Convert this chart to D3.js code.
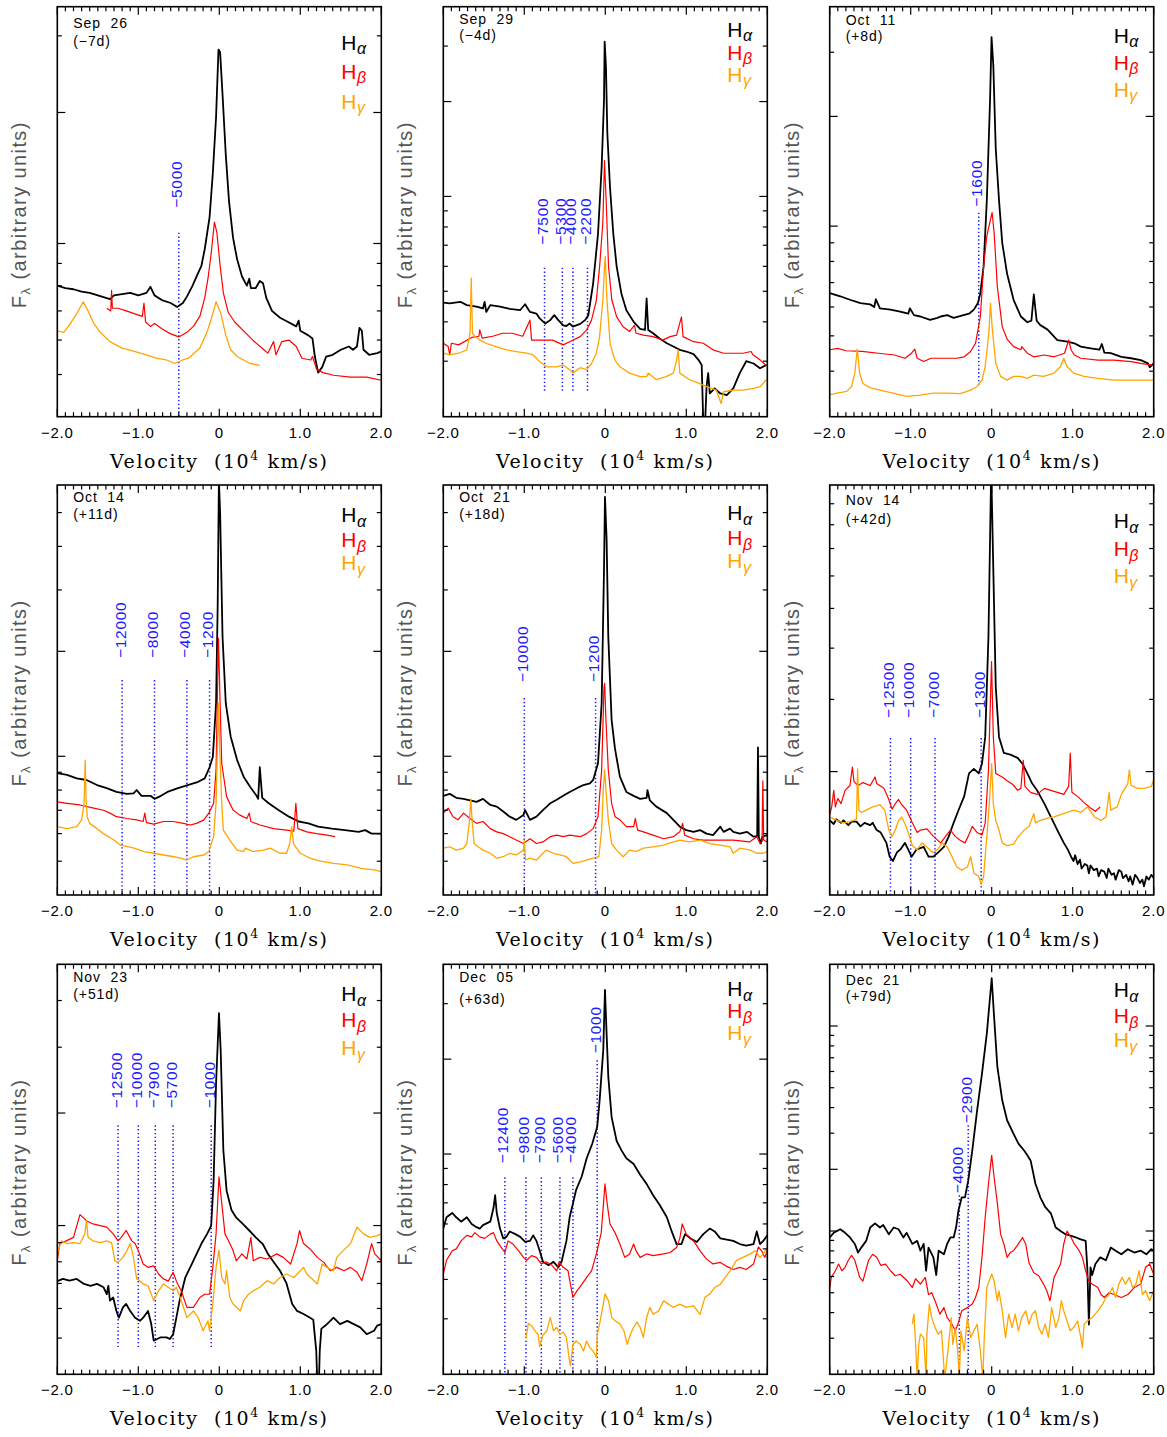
<!DOCTYPE html>
<html><head><meta charset="utf-8">
<script src="https://cdn.jsdelivr.net/npm/d3@7"></script>
<style>body{margin:0;background:#fff;} svg{display:block;}</style>
</head><body>
<svg id="chart" width="1167" height="1437"></svg>
<script>
// ---------------- DATA (velocity in 10^4 km/s, flux in arbitrary units) ----------------
const p1Ha=[[-2.00,8.0],[-1.90,7.9],[-1.80,7.85],[-1.70,7.75],[-1.60,7.7],[-1.50,7.6],[-1.40,7.5],[-1.35,7.45],[-1.30,7.6],[-1.20,7.65],[-1.10,7.7],[-1.00,7.6],[-0.90,7.7],[-0.85,7.95],[-0.80,7.6],[-0.70,7.4],[-0.60,7.3],[-0.52,7.15],[-0.45,7.3],[-0.40,7.55],[-0.33,8.0],[-0.28,8.4],[-0.22,8.9],[-0.18,9.7],[-0.12,11.5],[-0.08,14.5],[-0.04,19.5],[-0.01,27.9],[0.01,27.5],[0.04,22],[0.08,16],[0.12,12.5],[0.17,10.3],[0.22,9.2],[0.28,8.4],[0.34,8.0],[0.37,8.3],[0.39,7.9],[0.45,7.9],[0.50,8.2],[0.54,8.1],[0.58,7.5],[0.65,7.0],[0.75,6.75],[0.85,6.6],[0.95,6.45],[0.98,6.65],[1.00,6.3],[1.10,6.15],[1.15,6.05],[1.18,5.5],[1.22,5.05],[1.27,5.2],[1.32,5.5],[1.40,5.55],[1.50,5.7],[1.60,5.8],[1.65,5.7],[1.70,5.8],[1.73,6.4],[1.76,6.3],[1.78,5.7],[1.85,5.55],[1.95,5.6],[2.00,5.65]];
const p1Hb=[[-1.39,7.1],[-1.34,7.0],[-1.33,7.8],[-1.32,7.1],[-1.25,7.1],[-1.15,7.0],[-1.05,6.9],[-0.95,6.8],[-0.93,7.3],[-0.91,6.6],[-0.85,6.45],[-0.80,6.55],[-0.70,6.35],[-0.60,6.2],[-0.50,6.1],[-0.40,6.25],[-0.32,6.45],[-0.24,6.8],[-0.18,7.5],[-0.14,8.3],[-0.10,9.5],[-0.06,11.2],[-0.03,10.6],[0.01,8.9],[0.05,7.7],[0.11,6.95],[0.19,6.6],[0.30,6.3],[0.42,5.98],[0.55,5.7],[0.60,5.6],[0.67,5.95],[0.70,5.55],[0.77,5.95],[0.86,6.0],[0.95,5.8],[1.02,5.45],[1.13,5.4],[1.15,5.5],[1.20,5.15],[1.28,5.05],[1.41,4.98],[1.62,4.93],[1.82,4.93],[2.00,4.85]];
const p1Hg=[[-2.0,6.3],[-1.92,6.25],[-1.85,6.5],[-1.75,6.95],[-1.68,7.35],[-1.62,7.0],[-1.55,6.55],[-1.47,6.25],[-1.35,5.95],[-1.20,5.75],[-1.05,5.65],[-0.90,5.55],[-0.78,5.45],[-0.65,5.4],[-0.55,5.3],[-0.45,5.4],[-0.38,5.45],[-0.24,5.75],[-0.16,6.2],[-0.10,6.7],[-0.04,7.35],[0.02,6.9],[0.08,6.15],[0.14,5.7],[0.22,5.5],[0.30,5.4],[0.38,5.3],[0.50,5.25]];

const p2Ha=[[-2.0,4.6],[-1.92,4.58],[-1.79,4.63],[-1.71,4.52],[-1.59,4.47],[-1.51,4.41],[-1.49,4.63],[-1.47,4.3],[-1.42,4.52],[-1.30,4.47],[-1.18,4.4],[-1.05,4.36],[-0.99,4.55],[-0.93,4.3],[-0.85,4.25],[-0.81,4.1],[-0.74,3.95],[-0.68,4.05],[-0.63,4.2],[-0.58,4.05],[-0.52,3.9],[-0.48,3.88],[-0.44,3.95],[-0.40,3.86],[-0.31,3.94],[-0.25,4.05],[-0.21,4.2],[-0.15,5.3],[-0.09,7.6],[-0.045,12.4],[-0.016,20.2],[-0.008,31],[0.008,25.8],[0.025,15.9],[0.058,10.7],[0.099,7.6],[0.14,6.0],[0.20,4.9],[0.26,4.35],[0.35,4.0],[0.43,3.8],[0.49,3.77],[0.51,4.75],[0.53,3.77],[0.59,3.68],[0.67,3.54],[0.76,3.42],[0.84,3.34],[0.92,3.26],[1.00,3.22],[1.09,3.16],[1.15,3.03],[1.19,2.92],[1.21,1.9],[1.23,1.85],[1.25,2.49],[1.27,2.75],[1.29,2.37],[1.35,2.46],[1.42,2.37],[1.50,2.34],[1.58,2.46],[1.66,2.75],[1.74,3.0],[1.83,2.95],[1.91,2.85],[1.99,2.92]];
const p2Hb=[[-2.0,3.42],[-1.94,3.34],[-1.92,3.15],[-1.90,3.42],[-1.81,3.38],[-1.65,3.57],[-1.56,3.6],[-1.55,3.77],[-1.52,3.55],[-1.39,3.6],[-1.27,3.68],[-1.15,3.68],[-1.02,3.6],[-0.93,4.05],[-0.91,3.5],[-0.77,3.5],[-0.65,3.5],[-0.52,3.38],[-0.44,3.46],[-0.31,3.59],[-0.23,3.77],[-0.17,4.05],[-0.11,4.69],[-0.07,6.0],[-0.03,8.3],[-0.01,13],[0.01,9.8],[0.04,6.0],[0.08,4.7],[0.14,4.15],[0.22,3.86],[0.30,3.73],[0.36,3.9],[0.38,3.68],[0.47,3.63],[0.59,3.59],[0.71,3.5],[0.80,3.59],[0.88,3.63],[0.94,4.15],[0.96,3.59],[1.09,3.46],[1.21,3.42],[1.33,3.26],[1.46,3.18],[1.58,3.18],[1.70,3.18],[1.80,3.22],[1.82,3.15],[1.91,3.03],[1.99,2.9]];
const p2Hg=[[-2.0,3.18],[-1.92,3.14],[-1.81,3.18],[-1.71,3.26],[-1.67,3.68],[-1.655,5.5],[-1.64,3.68],[-1.61,3.6],[-1.55,3.5],[-1.47,3.42],[-1.35,3.34],[-1.22,3.26],[-1.10,3.22],[-0.97,3.18],[-0.89,3.14],[-0.81,2.99],[-0.72,2.88],[-0.60,2.88],[-0.52,2.92],[-0.44,2.82],[-0.40,2.75],[-0.31,2.86],[-0.23,2.82],[-0.17,2.95],[-0.11,3.18],[-0.07,3.6],[-0.03,4.7],[-0.01,5.98],[0.0,6.45],[0.02,4.7],[0.06,3.4],[0.12,3.02],[0.18,2.88],[0.30,2.75],[0.43,2.68],[0.51,2.68],[0.53,2.75],[0.63,2.62],[0.75,2.68],[0.84,2.75],[0.88,3.02],[0.90,3.26],[0.92,2.75],[1.04,2.62],[1.16,2.55],[1.25,2.49],[1.37,2.43],[1.43,2.2],[1.46,2.4],[1.58,2.43],[1.70,2.43],[1.83,2.46],[1.91,2.49],[1.99,2.62]];

const p3Ha=[[-2.0,6.55],[-1.87,6.42],[-1.75,6.28],[-1.62,6.15],[-1.50,6.1],[-1.45,6.0],[-1.43,6.3],[-1.38,5.95],[-1.25,5.9],[-1.13,5.83],[-1.03,5.75],[-1.01,5.95],[-0.96,5.7],[-0.88,5.65],[-0.76,5.53],[-0.67,5.6],[-0.63,5.65],[-0.55,5.7],[-0.47,5.6],[-0.37,5.68],[-0.28,5.75],[-0.22,5.9],[-0.17,6.15],[-0.14,6.55],[-0.10,7.76],[-0.06,11.8],[-0.02,22.3],[-0.002,33.0],[0.02,27.6],[0.05,16.3],[0.09,11.8],[0.13,9.0],[0.19,7.4],[0.27,6.28],[0.36,5.65],[0.44,5.45],[0.49,5.5],[0.52,6.5],[0.555,5.5],[0.60,5.35],[0.69,5.2],[0.81,4.87],[0.935,4.82],[1.02,4.77],[1.10,4.67],[1.22,4.62],[1.33,4.58],[1.36,4.75],[1.39,4.5],[1.47,4.48],[1.60,4.38],[1.72,4.34],[1.84,4.29],[1.93,4.2],[1.95,4.1],[2.0,4.2]];
const p3Hb=[[-2.0,4.58],[-1.90,4.62],[-1.80,4.55],[-1.60,4.53],[-1.40,4.48],[-1.20,4.43],[-1.07,4.34],[-0.99,4.48],[-0.95,4.6],[-0.92,4.34],[-0.84,4.25],[-0.75,4.34],[-0.60,4.34],[-0.43,4.34],[-0.34,4.38],[-0.26,4.53],[-0.20,4.77],[-0.14,5.65],[-0.10,7.76],[-0.06,9.4],[0.005,10.9],[0.03,9.6],[0.07,6.8],[0.13,5.3],[0.19,4.9],[0.27,4.67],[0.36,4.58],[0.37,4.67],[0.44,4.48],[0.52,4.38],[0.65,4.43],[0.77,4.38],[0.90,4.48],[0.95,4.87],[0.98,4.58],[1.02,4.43],[1.10,4.34],[1.31,4.29],[1.51,4.29],[1.72,4.25],[1.84,4.2],[2.0,4.15]];
const p3Hg=[[-2.0,3.45],[-1.91,3.48],[-1.79,3.52],[-1.73,3.63],[-1.69,3.95],[-1.66,4.6],[-1.63,3.95],[-1.59,3.7],[-1.50,3.6],[-1.38,3.55],[-1.22,3.48],[-1.05,3.41],[-0.88,3.44],[-0.72,3.48],[-0.55,3.48],[-0.39,3.47],[-0.26,3.55],[-0.18,3.63],[-0.12,3.78],[-0.08,4.12],[-0.035,5.09],[-0.015,6.15],[0.005,5.3],[0.05,4.2],[0.11,3.87],[0.19,3.78],[0.27,3.87],[0.36,3.87],[0.44,3.82],[0.52,3.9],[0.64,3.87],[0.77,3.95],[0.85,4.12],[0.89,4.34],[0.93,4.12],[1.01,3.95],[1.14,3.87],[1.31,3.82],[1.51,3.78],[1.72,3.78],[2.0,3.78]];

const p4Ha=[[-2.0,8.94],[-1.88,8.84],[-1.76,8.64],[-1.64,8.55],[-1.51,8.27],[-1.39,8.1],[-1.27,7.9],[-1.14,7.8],[-1.06,7.83],[-1.02,8.0],[-0.96,7.7],[-0.85,7.7],[-0.80,7.55],[-0.72,7.7],[-0.64,7.9],[-0.51,8.1],[-0.39,8.27],[-0.26,8.45],[-0.18,8.64],[-0.12,9.3],[-0.08,9.95],[-0.04,14.2],[-0.02,27],[-0.005,62],[0.01,50],[0.04,22],[0.08,14.2],[0.14,11.4],[0.22,9.75],[0.30,8.74],[0.38,8.18],[0.46,7.7],[0.48,7.55],[0.50,9.3],[0.53,7.6],[0.61,7.33],[0.73,7.01],[0.86,6.71],[0.98,6.5],[1.10,6.42],[1.22,6.28],[1.39,6.2],[1.55,6.14],[1.72,6.07],[1.80,6.14],[1.88,6.0],[2.0,6.0]];
const p4Hb=[[-2.0,7.4],[-1.88,7.33],[-1.72,7.25],[-1.55,7.1],[-1.43,7.0],[-1.35,6.87],[-1.27,6.71],[-1.14,6.63],[-1.02,6.57],[-0.94,6.5],[-0.92,6.87],[-0.90,6.45],[-0.81,6.39],[-0.69,6.5],[-0.57,6.5],[-0.44,6.42],[-0.36,6.35],[-0.28,6.42],[-0.19,6.57],[-0.13,6.87],[-0.07,7.33],[-0.04,9.14],[-0.025,14.2],[-0.01,21.8],[0.01,14.2],[0.03,9.55],[0.09,7.66],[0.17,7.01],[0.25,6.79],[0.34,6.63],[0.37,6.87],[0.39,6.5],[0.50,6.35],[0.67,6.2],[0.83,6.14],[0.92,6.1],[0.945,7.33],[0.97,6.2],[1.08,6.07],[1.20,6.0],[1.33,5.94],[1.43,5.88]];
const p4Hg=[[-2.0,6.28],[-1.88,6.2],[-1.76,6.28],[-1.70,6.57],[-1.67,7.33],[-1.655,9.75],[-1.645,7.5],[-1.63,6.7],[-1.60,6.42],[-1.51,6.2],[-1.43,6.0],[-1.30,5.75],[-1.22,5.56],[-1.05,5.45],[-0.93,5.33],[-0.81,5.27],[-0.69,5.21],[-0.56,5.15],[-0.48,5.1],[-0.40,5.04],[-0.32,5.15],[-0.19,5.21],[-0.13,5.33],[-0.07,5.88],[-0.04,7.33],[-0.02,11.4],[-0.01,14.2],[0.005,10.5],[0.03,7.33],[0.05,6.14],[0.14,5.7],[0.22,5.38],[0.30,5.33],[0.32,5.45],[0.42,5.33],[0.55,5.38],[0.63,5.45],[0.75,5.27],[0.83,5.27],[0.87,5.62],[0.895,6.28],[0.915,5.62],[1.00,5.27],[1.12,5.1],[1.25,5.0],[1.41,4.93],[1.58,4.88],[1.75,4.77],[1.91,4.72],[2.0,4.67]];

const p5Ha=[[-2.0,7.7],[-1.92,7.8],[-1.84,7.6],[-1.75,7.55],[-1.67,7.47],[-1.59,7.4],[-1.51,7.55],[-1.42,7.25],[-1.34,7.17],[-1.26,6.94],[-1.18,6.71],[-1.10,6.57],[-1.01,6.79],[-0.99,7.01],[-0.93,6.57],[-0.85,6.71],[-0.77,7.01],[-0.68,7.33],[-0.60,7.5],[-0.52,7.7],[-0.44,7.9],[-0.35,8.1],[-0.27,8.27],[-0.19,8.36],[-0.15,8.55],[-0.09,9.55],[-0.045,14.2],[-0.016,34.2],[-0.004,55.5],[0.016,42],[0.037,22],[0.078,12.7],[0.12,10.5],[0.18,8.74],[0.26,7.9],[0.35,7.7],[0.43,7.55],[0.51,7.6],[0.52,8.0],[0.55,7.47],[0.63,7.17],[0.76,6.87],[0.84,6.57],[0.92,6.28],[1.00,6.14],[1.09,6.07],[1.17,6.14],[1.25,6.0],[1.33,5.94],[1.42,6.28],[1.46,6.07],[1.54,6.2],[1.58,6.07],[1.66,6.0],[1.75,6.07],[1.83,5.88],[1.875,5.9],[1.885,10.6],[1.895,5.88],[1.92,5.62],[1.94,5.88],[2.0,5.94]];
const p5Hb=[[-2.0,6.87],[-1.94,7.1],[-1.88,6.71],[-1.82,6.57],[-1.75,6.87],[-1.67,6.63],[-1.59,6.42],[-1.51,6.5],[-1.42,6.2],[-1.34,6.07],[-1.26,6.0],[-1.18,5.88],[-1.10,5.75],[-1.01,5.62],[-0.93,5.8],[-0.85,5.62],[-0.77,5.68],[-0.68,5.88],[-0.60,5.94],[-0.52,5.88],[-0.44,5.94],[-0.31,5.88],[-0.23,6.0],[-0.15,6.2],[-0.09,6.71],[-0.045,9.14],[-0.016,15.8],[-0.008,16.2],[0.008,12.7],[0.037,9.14],[0.078,7.33],[0.12,6.71],[0.18,6.57],[0.26,6.28],[0.35,6.28],[0.37,6.63],[0.40,6.14],[0.47,6.07],[0.59,5.94],[0.72,5.8],[0.84,5.88],[0.92,6.07],[0.955,6.42],[0.98,5.94],[1.09,5.8],[1.21,5.75],[1.37,5.75],[1.58,5.75],[1.78,5.68],[1.87,5.88],[1.91,5.62],[1.935,5.7],[1.945,8.5],[1.955,5.75],[2.0,5.68]];
const p5Hg=[[-2.0,5.45],[-1.92,5.5],[-1.84,5.38],[-1.75,5.45],[-1.71,5.62],[-1.68,6.42],[-1.66,7.55],[-1.645,6.57],[-1.62,5.62],[-1.57,5.5],[-1.51,5.38],[-1.42,5.27],[-1.34,5.1],[-1.26,5.15],[-1.18,5.27],[-1.10,5.21],[-1.01,5.38],[-1.00,5.75],[-0.985,5.04],[-0.93,5.1],[-0.85,5.04],[-0.77,5.27],[-0.73,5.38],[-0.64,5.27],[-0.56,5.21],[-0.48,5.15],[-0.40,4.93],[-0.31,4.98],[-0.23,5.04],[-0.15,5.1],[-0.08,5.15],[-0.045,6.14],[-0.025,8.0],[-0.008,9.14],[0.008,8.0],[0.037,6.57],[0.078,5.62],[0.14,5.38],[0.22,5.15],[0.30,5.38],[0.38,5.33],[0.47,5.45],[0.59,5.5],[0.72,5.56],[0.84,5.68],[0.92,5.75],[1.04,5.68],[1.17,5.75],[1.29,5.62],[1.42,5.56],[1.54,5.5],[1.58,5.27],[1.66,5.45],[1.79,5.38],[1.87,5.27],[1.95,5.27],[2.0,5.33]];

const p6Ha=[[-2.0,15.2],[-1.95,14.9],[-1.92,15.3],[-1.86,15.0],[-1.83,15.2],[-1.77,14.8],[-1.73,15.1],[-1.67,15.1],[-1.62,14.7],[-1.57,15.0],[-1.50,14.8],[-1.47,15.0],[-1.42,14.4],[-1.37,14.2],[-1.30,13.4],[-1.26,12.4],[-1.22,12.1],[-1.17,12.7],[-1.13,12.9],[-1.07,13.4],[-1.03,12.9],[-0.99,12.4],[-0.93,12.9],[-0.84,13.1],[-0.78,12.4],[-0.72,12.4],[-0.66,12.7],[-0.59,13.1],[-0.53,13.9],[-0.47,15.0],[-0.41,16.1],[-0.34,17.4],[-0.28,19.8],[-0.22,20.3],[-0.16,19.8],[-0.12,20.9],[-0.08,24.3],[-0.04,42.7],[-0.006,110],[0.02,62],[0.05,32.2],[0.09,24.3],[0.15,22.2],[0.23,22.0],[0.32,21.6],[0.38,20.9],[0.44,19.8],[0.50,18.7],[0.56,18.0],[0.65,16.7],[0.73,15.5],[0.81,14.4],[0.89,13.4],[0.94,12.9],[0.98,12.4],[1.01,12.1],[1.03,12.5],[1.06,11.9],[1.09,12.2],[1.11,11.6],[1.15,11.9],[1.18,11.8],[1.20,11.3],[1.22,11.8],[1.26,11.5],[1.30,11.6],[1.32,11.1],[1.35,11.5],[1.39,11.4],[1.42,11.0],[1.44,11.6],[1.48,11.2],[1.51,11.3],[1.53,10.9],[1.57,11.5],[1.60,11.4],[1.62,11.0],[1.66,11.2],[1.69,10.8],[1.71,11.1],[1.74,10.6],[1.77,11.2],[1.80,11.0],[1.83,10.7],[1.86,10.9],[1.88,10.5],[1.91,11.1],[1.94,10.9],[1.97,11.2],[2.0,11.0]];
const p6Hb=[[-2.0,15.7],[-1.975,16.4],[-1.95,18.0],[-1.93,16.4],[-1.90,17.2],[-1.86,16.7],[-1.81,18.0],[-1.75,18.5],[-1.72,20.5],[-1.70,18.9],[-1.65,18.5],[-1.59,18.8],[-1.50,18.5],[-1.44,19.4],[-1.42,18.7],[-1.33,18.2],[-1.27,17.1],[-1.23,16.2],[-1.19,16.7],[-1.15,17.1],[-1.11,16.6],[-1.05,16.1],[-0.98,15.0],[-0.92,14.2],[-0.88,14.4],[-0.80,14.5],[-0.72,13.9],[-0.63,13.4],[-0.57,13.9],[-0.51,14.4],[-0.45,13.9],[-0.39,13.6],[-0.33,13.4],[-0.29,13.9],[-0.24,14.7],[-0.18,14.2],[-0.12,14.0],[-0.08,15.0],[-0.04,20.2],[-0.002,37.1],[0.02,24.3],[0.05,19.8],[0.09,19.6],[0.13,19.4],[0.19,19.0],[0.26,18.6],[0.32,18.0],[0.36,18.2],[0.39,21.3],[0.41,18.4],[0.48,17.8],[0.56,17.6],[0.65,18.2],[0.73,18.0],[0.81,17.8],[0.89,17.6],[0.95,18.4],[0.97,22.2],[0.99,17.8],[1.06,17.4],[1.14,16.8],[1.22,16.3],[1.28,16.0],[1.34,16.4]];
const p6Hg=[[-2.0,15.5],[-1.91,15.2],[-1.83,15.0],[-1.75,15.1],[-1.67,15.3],[-1.655,20.3],[-1.64,16.1],[-1.61,15.9],[-1.55,16.1],[-1.47,16.4],[-1.38,16.6],[-1.32,16.1],[-1.27,14.4],[-1.23,13.9],[-1.19,14.4],[-1.15,15.2],[-1.11,15.5],[-1.07,14.9],[-1.03,14.2],[-0.98,13.2],[-0.92,12.9],[-0.86,13.4],[-0.80,13.1],[-0.73,12.7],[-0.67,12.9],[-0.61,13.4],[-0.55,13.1],[-0.49,12.4],[-0.43,11.7],[-0.37,11.5],[-0.30,11.7],[-0.26,12.4],[-0.22,11.3],[-0.16,11.1],[-0.13,10.6],[-0.10,11.1],[-0.06,13.9],[-0.03,16.7],[0.0,20.9],[0.02,16.7],[0.05,15.2],[0.09,14.4],[0.13,13.4],[0.19,13.2],[0.27,13.3],[0.33,13.9],[0.40,14.4],[0.46,14.7],[0.52,15.8],[0.54,15.0],[0.60,15.2],[0.69,15.4],[0.77,15.5],[0.85,15.7],[0.93,15.9],[1.02,16.1],[1.10,15.9],[1.18,16.4],[1.27,15.5],[1.35,15.2],[1.41,15.5],[1.45,17.8],[1.47,16.1],[1.55,16.4],[1.60,17.6],[1.68,18.7],[1.70,20.2],[1.72,18.5],[1.80,18.2],[1.88,18.2],[1.97,18.4],[2.0,19.1]];

const p7Ha=[[-2.0,7.1],[-1.93,7.2],[-1.85,7.12],[-1.76,7.2],[-1.67,6.98],[-1.59,6.9],[-1.51,6.98],[-1.43,6.84],[-1.39,6.55],[-1.37,6.9],[-1.35,6.3],[-1.31,6.42],[-1.27,5.91],[-1.24,5.67],[-1.19,6.04],[-1.15,6.17],[-1.10,5.91],[-1.04,5.67],[-0.98,5.56],[-0.94,5.67],[-0.88,5.91],[-0.84,5.45],[-0.81,4.92],[-0.73,5.02],[-0.65,5.02],[-0.61,4.97],[-0.57,5.12],[-0.53,5.67],[-0.49,6.3],[-0.42,7.26],[-0.34,7.89],[-0.28,8.4],[-0.22,8.95],[-0.15,9.5],[-0.10,10.0],[-0.07,13.2],[-0.04,24.0],[-0.004,37.0],[0.017,29.5],[0.05,15.9],[0.09,12.4],[0.15,11.0],[0.21,10.5],[0.29,10.1],[0.37,9.7],[0.45,9.3],[0.54,8.9],[0.60,8.4],[0.66,8.05],[0.75,7.57],[0.83,7.0],[0.90,6.17],[0.96,5.91],[1.04,5.8],[1.12,5.67],[1.16,5.6],[1.197,4.62],[1.21,3.8],[1.23,3.8],[1.24,4.62],[1.26,5.3],[1.31,5.4],[1.37,5.56],[1.41,5.67],[1.49,5.45],[1.58,5.56],[1.66,5.45],[1.74,5.34],[1.82,5.12],[1.91,5.23],[1.95,5.4],[2.0,5.45]];
const p7Hb=[[-2.0,8.05],[-1.97,8.95],[-1.89,9.1],[-1.80,9.3],[-1.72,10.7],[-1.68,10.5],[-1.64,10.3],[-1.56,10.1],[-1.47,10.0],[-1.39,9.9],[-1.31,9.5],[-1.25,9.1],[-1.21,9.3],[-1.15,9.7],[-1.08,9.1],[-1.04,8.95],[-1.00,8.57],[-0.94,7.89],[-0.88,7.73],[-0.81,7.8],[-0.75,7.42],[-0.69,7.2],[-0.63,7.1],[-0.57,7.5],[-0.53,7.1],[-0.47,6.69],[-0.40,6.04],[-0.32,6.04],[-0.24,6.42],[-0.18,6.55],[-0.12,6.55],[-0.08,7.73],[-0.04,9.5],[-0.004,13.5],[0.03,11.5],[0.07,9.5],[0.13,8.95],[0.17,8.57],[0.21,8.05],[0.28,8.4],[0.34,8.14],[0.39,9.3],[0.42,8.05],[0.50,8.22],[0.59,8.14],[0.71,8.4],[0.79,8.22],[0.88,7.89],[0.96,8.95],[0.99,9.7],[1.04,8.95],[1.12,8.66],[1.21,8.22],[1.29,7.97],[1.37,7.57],[1.45,7.73],[1.54,7.57],[1.62,7.73],[1.70,7.5],[1.76,7.12],[1.82,7.89],[1.88,8.95],[1.92,8.4],[2.0,8.05]];
const p7Hg=[[-2.0,8.4],[-1.95,9.1],[-1.88,8.95],[-1.80,9.0],[-1.72,8.95],[-1.66,9.5],[-1.64,10.3],[-1.62,9.3],[-1.56,9.1],[-1.47,9.0],[-1.39,9.1],[-1.33,9.0],[-1.29,8.05],[-1.25,7.97],[-1.19,8.22],[-1.14,8.57],[-1.10,8.95],[-1.06,8.22],[-1.02,7.2],[-0.98,7.12],[-0.94,6.98],[-0.88,6.9],[-0.84,6.55],[-0.81,6.3],[-0.75,6.69],[-0.69,6.98],[-0.63,6.84],[-0.57,6.69],[-0.53,6.84],[-0.47,6.3],[-0.40,5.67],[-0.32,5.91],[-0.26,5.67],[-0.20,5.23],[-0.14,5.56],[-0.12,5.23],[-0.08,6.17],[-0.04,7.73],[-0.004,8.6],[0.03,7.26],[0.07,6.98],[0.09,7.57],[0.13,6.42],[0.17,6.17],[0.26,5.91],[0.30,6.3],[0.36,6.55],[0.42,6.69],[0.50,6.84],[0.59,7.12],[0.67,6.98],[0.75,7.26],[0.83,7.42],[0.92,7.26],[1.00,7.57],[1.04,7.73],[1.08,7.42],[1.17,7.12],[1.21,6.98],[1.27,7.89],[1.33,7.73],[1.41,7.57],[1.45,8.22],[1.53,8.57],[1.62,8.95],[1.70,9.9],[1.78,9.5],[1.86,9.3],[1.95,9.4],[2.0,9.5]];

const p8Ha=[[-2.0,5.8],[-1.96,6.3],[-1.89,6.5],[-1.84,6.3],[-1.78,6.1],[-1.71,6.3],[-1.65,6.0],[-1.59,5.86],[-1.55,5.8],[-1.51,5.95],[-1.42,6.1],[-1.38,6.75],[-1.36,7.4],[-1.34,6.5],[-1.30,5.8],[-1.26,5.4],[-1.22,5.46],[-1.18,5.68],[-1.11,5.57],[-1.05,5.46],[-0.99,5.26],[-0.93,5.3],[-0.89,5.52],[-0.85,5.3],[-0.81,4.93],[-0.77,4.55],[-0.70,4.44],[-0.64,4.55],[-0.58,4.37],[-0.54,4.55],[-0.48,5.3],[-0.44,6.3],[-0.40,6.95],[-0.36,7.7],[-0.29,8.5],[-0.23,9.7],[-0.16,10.8],[-0.10,12.2],[-0.07,14.8],[-0.025,21.4],[-0.004,33.2],[0.016,24.1],[0.037,17.6],[0.078,13.1],[0.14,11.0],[0.20,10.27],[0.26,9.7],[0.35,9.3],[0.43,8.6],[0.51,8.04],[0.59,7.4],[0.67,6.9],[0.76,6.3],[0.82,5.68],[0.88,5.18],[0.94,5.18],[0.985,5.57],[1.05,5.4],[1.13,5.26],[1.21,5.57],[1.29,5.8],[1.35,5.68],[1.42,5.4],[1.50,5.35],[1.58,5.3],[1.66,5.18],[1.74,5.12],[1.83,5.18],[1.87,5.68],[1.91,5.18],[1.95,5.3],[2.0,5.52]];
const p8Hb=[[-2.0,4.16],[-1.96,4.6],[-1.89,4.93],[-1.84,5.0],[-1.78,5.3],[-1.71,5.52],[-1.65,5.46],[-1.61,5.63],[-1.55,5.46],[-1.49,5.4],[-1.42,5.57],[-1.38,5.63],[-1.34,5.3],[-1.30,5.12],[-1.24,4.87],[-1.20,5.3],[-1.14,5.18],[-1.07,4.93],[-1.01,4.7],[-0.97,4.6],[-0.91,4.76],[-0.85,4.7],[-0.79,4.48],[-0.73,4.55],[-0.66,4.44],[-0.60,4.26],[-0.57,4.55],[-0.52,4.37],[-0.46,4.26],[-0.43,3.86],[-0.40,3.51],[-0.35,3.68],[-0.29,3.86],[-0.23,4.06],[-0.17,4.26],[-0.11,4.82],[-0.05,5.63],[-0.004,8.04],[0.025,6.9],[0.058,6.0],[0.12,5.63],[0.18,5.18],[0.24,4.7],[0.30,4.82],[0.35,5.18],[0.38,4.93],[0.43,4.7],[0.51,4.82],[0.59,4.76],[0.72,4.82],[0.80,4.87],[0.88,5.05],[0.92,5.4],[0.95,6.0],[1.00,5.57],[1.09,5.3],[1.17,4.93],[1.25,4.64],[1.33,4.48],[1.42,4.53],[1.50,4.4],[1.58,4.3],[1.66,4.37],[1.74,4.3],[1.83,4.48],[1.89,5.07],[1.93,4.93],[1.97,4.7],[2.0,4.93]];
const p8Hg=[[-0.98,2.6],[-0.95,2.9],[-0.91,2.85],[-0.87,2.75],[-0.83,2.68],[-0.81,2.45],[-0.77,2.66],[-0.72,2.75],[-0.68,3.03],[-0.64,2.75],[-0.60,2.82],[-0.56,2.68],[-0.52,2.72],[-0.48,2.62],[-0.45,2.28],[-0.43,2.13],[-0.40,2.49],[-0.36,2.55],[-0.31,2.49],[-0.27,2.37],[-0.23,2.55],[-0.19,2.43],[-0.15,2.37],[-0.11,2.26],[-0.10,2.68],[-0.07,2.89],[-0.025,3.34],[-0.004,3.6],[0.04,3.42],[0.08,3.03],[0.12,2.96],[0.18,2.89],[0.23,2.75],[0.27,2.49],[0.31,2.68],[0.35,2.82],[0.39,2.93],[0.43,2.82],[0.47,2.62],[0.51,3.03],[0.55,3.26],[0.59,3.1],[0.66,3.18],[0.72,3.42],[0.78,3.34],[0.84,3.26],[0.92,3.34],[1.00,3.26],[1.09,3.3],[1.17,3.1],[1.23,3.51],[1.29,3.6],[1.35,3.77],[1.42,3.86],[1.48,4.06],[1.54,4.26],[1.62,4.6],[1.70,4.7],[1.79,4.82],[1.85,4.93],[1.91,4.7],[1.95,4.82],[2.0,5.05]];

const p9Ha=[[-2.0,9.3],[-1.95,9.8],[-1.91,10.0],[-1.87,10.2],[-1.81,9.8],[-1.75,9.3],[-1.69,8.65],[-1.65,7.85],[-1.61,8.3],[-1.55,8.95],[-1.50,10.4],[-1.44,10.9],[-1.38,10.4],[-1.34,10.7],[-1.27,9.65],[-1.21,10.4],[-1.15,10.2],[-1.09,9.3],[-1.05,9.8],[-0.98,8.65],[-0.92,8.95],[-0.88,8.02],[-0.84,8.65],[-0.81,6.4],[-0.78,8.3],[-0.72,7.44],[-0.685,6.1],[-0.655,8.02],[-0.59,7.7],[-0.55,8.65],[-0.51,9.3],[-0.47,9.3],[-0.44,10.4],[-0.41,12.6],[-0.37,14.6],[-0.33,14.6],[-0.29,17.6],[-0.24,24.7],[-0.18,38.8],[-0.12,58.6],[-0.06,92],[0.0,171],[0.03,110],[0.07,63.2],[0.13,43.4],[0.19,34.7],[0.27,29.8],[0.33,26.7],[0.40,24.7],[0.44,23.4],[0.48,22.1],[0.54,17.0],[0.60,14.6],[0.66,13.1],[0.73,12.2],[0.79,10.4],[0.85,10.0],[0.91,9.65],[0.97,9.5],[1.04,9.3],[1.10,9.1],[1.16,8.95],[1.18,6.65],[1.20,3.5],[1.22,6.65],[1.24,6.1],[1.28,6.9],[1.34,7.44],[1.41,7.2],[1.47,8.3],[1.53,8.02],[1.60,7.7],[1.68,8.15],[1.76,7.85],[1.84,8.02],[1.91,7.7],[1.97,8.15],[2.0,8.02]];
const p9Hb=[[-2.0,5.3],[-1.98,5.94],[-1.93,6.4],[-1.89,6.9],[-1.85,6.4],[-1.81,6.65],[-1.77,7.2],[-1.73,7.6],[-1.69,7.2],[-1.63,5.94],[-1.59,5.7],[-1.52,7.2],[-1.47,7.7],[-1.42,7.44],[-1.37,6.8],[-1.31,6.9],[-1.25,6.4],[-1.19,6.05],[-1.13,6.15],[-1.04,5.7],[-0.98,5.3],[-0.94,5.85],[-0.88,5.51],[-0.82,5.94],[-0.78,4.9],[-0.74,5.0],[-0.70,4.57],[-0.64,3.93],[-0.59,4.23],[-0.55,3.78],[-0.49,3.51],[-0.45,3.26],[-0.41,3.58],[-0.37,4.08],[-0.30,4.23],[-0.24,4.4],[-0.20,4.74],[-0.16,5.3],[-0.12,7.44],[-0.08,11.7],[-0.04,17.0],[0.0,23.4],[0.03,18.3],[0.07,13.6],[0.11,9.65],[0.15,8.65],[0.19,7.44],[0.23,7.85],[0.27,8.02],[0.33,8.65],[0.38,9.3],[0.42,8.65],[0.46,7.0],[0.52,6.25],[0.58,6.05],[0.64,5.51],[0.68,5.11],[0.72,4.57],[0.77,5.94],[0.81,6.4],[0.85,6.9],[0.89,8.65],[0.93,10.0],[0.98,9.3],[1.02,8.65],[1.08,8.02],[1.12,7.44],[1.16,6.4],[1.20,5.7],[1.24,5.51],[1.31,5.3],[1.35,4.9],[1.39,4.74],[1.45,5.0],[1.51,4.9],[1.60,4.74],[1.68,4.9],[1.76,5.3],[1.84,5.51],[1.90,6.65],[1.95,6.9],[2.0,6.15]];
const p9Hg=[[-0.98,3.51],[-0.96,3.93],[-0.94,2.85],[-0.92,1.9],[-0.90,2.8],[-0.88,3.14],[-0.84,3.02],[-0.81,1.9],[-0.80,3.14],[-0.77,4.4],[-0.74,3.78],[-0.70,3.38],[-0.66,3.14],[-0.62,3.26],[-0.58,1.9],[-0.54,2.6],[-0.50,3.78],[-0.48,2.8],[-0.45,3.38],[-0.42,2.6],[-0.40,1.9],[-0.38,3.26],[-0.34,2.6],[-0.30,3.78],[-0.26,3.02],[-0.22,3.26],[-0.18,3.51],[-0.14,2.6],[-0.11,1.9],[-0.09,3.14],[-0.06,5.3],[0.0,6.17],[0.03,5.7],[0.07,4.57],[0.09,5.11],[0.13,4.08],[0.17,3.02],[0.21,3.93],[0.25,3.38],[0.29,3.93],[0.33,3.26],[0.37,3.78],[0.42,4.08],[0.46,3.51],[0.50,3.93],[0.54,4.08],[0.58,3.38],[0.62,3.14],[0.66,3.51],[0.70,3.02],[0.74,4.23],[0.79,3.38],[0.83,3.78],[0.86,4.57],[0.89,4.08],[0.93,3.64],[0.97,3.26],[1.01,3.38],[1.06,3.64],[1.10,3.02],[1.12,2.7],[1.14,3.51],[1.18,3.64],[1.24,3.78],[1.31,4.08],[1.37,4.4],[1.41,4.74],[1.45,4.9],[1.49,5.3],[1.53,4.74],[1.57,5.51],[1.61,5.94],[1.65,5.51],[1.70,5.94],[1.74,5.3],[1.78,5.51],[1.82,6.4],[1.86,4.9],[1.90,5.11],[1.95,4.57],[2.0,5.11]];

const panelDates=["Sep 26","Sep 29","Oct 11","Oct 14","Oct 21","Nov 14","Nov 23","Dec 05","Dec 21"];
const panelPhases=["(\u22127d)","(\u22124d)","(+8d)","(+11d)","(+18d)","(+42d)","(+51d)","(+63d)","(+79d)"];
const fluxDomains=[[4,35],[2,40],[3,40],[4,60],[4,60],[10,100],[4,50],[2,40],[2,200]];
const velocityMarks=[[-5000],[-7500,-5300,-4000,-2200],[-1600],[-12000,-8000,-4000,-1200],[-10000,-1200],[-12500,-10000,-7000,-1300],[-12500,-10000,-7900,-5700,-1000],[-12400,-9800,-7900,-5600,-4000,-1000],[-4000,-2900]];
const seriesNames=["\u03b1","\u03b2","\u03b3"];
const xTickValues=[-2,-1,0,1,2];
const xTickLabels=["\u22122.0","\u22121.0","0","1.0","2.0"];
const spectra=[[p1Ha,p1Hb,p1Hg],[p2Ha,p2Hb,p2Hg],[p3Ha,p3Hb,p3Hg],[p4Ha,p4Hb,p4Hg],[p5Ha,p5Hb,p5Hg],[p6Ha,p6Hb,p6Hg],[p7Ha,p7Hb,p7Hg],[p8Ha,p8Hb,p8Hg],[p9Ha,p9Hb,p9Hg]];

// ---------------- LAYOUT / STYLE ----------------
const colors=["#000000","#ff0000","#ffa500"];
const widths=[1.8,1.2,1.3];
const colLeft=[57.3,443.3,829.7], rowTop=[6.7,485,964.3];
const PW=324, PH=410;
const legendY=[[43,72,102],[30,53,75],[36,63,90],[37,62,85],[35,60,83],[43,71,98],[37,63,91],[32,54,76],[33,59,83]];
const dateY=[[21,39],[17,33],[18,34],[17,34],[17,34],[20,39],[18,35],[18,40],[21,37]];
const markLayout=[
 {bottom:410,items:[[201,226]]},
 {bottom:386,items:[[238,261],[238,261],[238,261],[238,261]]},
 {bottom:380,items:[[200,206]]},
 {bottom:410,items:[[173,195],[173,195],[173,195],[173,195]]},
 {bottom:410,items:[[197,213],[197,213]]},
 {bottom:410,items:[[233,253],[233,253],[233,253],[233,253]]},
 {bottom:384,items:[[144,161],[144,161],[144,161],[144,161],[144,161]]},
 {bottom:409,items:[[199,213],[199,213],[199,213],[199,213],[199,213],[89,96]]},
 {bottom:409,items:[[229,231],[159,161]]}
];
const sans="Liberation Sans, Arial, sans-serif";

const svg=d3.select("#chart");
const defs=svg.append("defs");

spectra.forEach((series,i)=>{
  const col=i%3,row=Math.floor(i/3);
  const left=colLeft[col],top=rowTop[row];
  const g=svg.append("g").attr("transform",`translate(${left},${top})`);
  const x=d3.scaleLinear().domain([-2,2]).range([0,PW]);
  const y=d3.scaleLog().domain(fluxDomains[i]).range([PH,0]);

  defs.append("clipPath").attr("id","clip"+i).append("rect").attr("x",0).attr("y",0).attr("width",PW).attr("height",PH);

  const ml=markLayout[i];
  velocityMarks[i].forEach((vm,k)=>{
    const xv=x(vm/1e4);
    const [lb,lt]=ml.items[k];
    g.append("line").attr("x1",xv).attr("x2",xv).attr("y1",lt).attr("y2",ml.bottom)
      .attr("stroke","#1a1aff").attr("stroke-width",1.5).attr("stroke-dasharray","1.4,2.4");
    g.append("text").attr("transform",`translate(${xv+3.5},${lb}) rotate(-90)`)
      .attr("font-family",sans).attr("font-size",15.5).attr("letter-spacing",0.7)
      .attr("fill","#1a1aff").text("\u2212"+Math.abs(vm));
  });

  const line=d3.line().x(d=>x(d[0])).y(d=>y(d[1]));
  const plot=g.append("g").attr("clip-path",`url(#clip${i})`);
  series.forEach((s,k)=>{
    plot.append("path").datum(s).attr("d",line).attr("fill","none")
      .attr("stroke",colors[k]).attr("stroke-width",widths[k]).attr("stroke-linejoin","round");
  });

  g.append("rect").attr("x",0).attr("y",0).attr("width",PW).attr("height",PH)
    .attr("fill","none").attr("stroke","#000").attr("stroke-width",1.6);

  const xt=d3.range(-20,21).map(d=>d/10);
  xt.forEach(t=>{
    const major=Math.abs(t-Math.round(t))<1e-9;
    const len=major?8:4.5;
    const xp=x(t);
    g.append("line").attr("x1",xp).attr("x2",xp).attr("y1",PH).attr("y2",PH-len).attr("stroke","#000").attr("stroke-width",1.2);
    g.append("line").attr("x1",xp).attr("x2",xp).attr("y1",0).attr("y2",len).attr("stroke","#000").attr("stroke-width",1.2);
  });
  const [lo,hi]=fluxDomains[i];
  const yt=[];
  for(let e=Math.floor(Math.log10(lo));e<=Math.ceil(Math.log10(hi));e++){
    for(let m=1;m<=9;m++){const v=m*Math.pow(10,e); if(v>lo*1.001&&v<hi*0.999) yt.push({v,major:(m===1||m===2)});}
  }
  yt.forEach(t=>{
    const yp=y(t.v),len=t.major?8:4.5;
    g.append("line").attr("x1",0).attr("x2",len).attr("y1",yp).attr("y2",yp).attr("stroke","#000").attr("stroke-width",1.2);
    g.append("line").attr("x1",PW).attr("x2",PW-len).attr("y1",yp).attr("y2",yp).attr("stroke","#000").attr("stroke-width",1.2);
  });
  xTickValues.forEach((t,k)=>{
    g.append("text").attr("x",x(t)).attr("y",PH+21).attr("text-anchor","middle")
      .attr("font-family",sans).attr("font-size",15).attr("letter-spacing",0.8)
      .text(xTickLabels[k]);
  });
  const xtitle=g.append("text").attr("x",PW/2).attr("y",PH+51).attr("text-anchor","middle")
    .attr("font-family","DejaVu Serif, serif").attr("font-size",19).attr("letter-spacing",1.6);
  xtitle.append("tspan").text("Velocity\u00a0\u00a0(10");
  xtitle.append("tspan").attr("font-size",12.5).attr("dy",-8).text("4");
  xtitle.append("tspan").attr("dy",8).text("\u00a0km/s)");
  const ytitle=g.append("text").attr("transform",`translate(-31,${PH/2+3}) rotate(-90)`).attr("text-anchor","middle")
    .attr("font-family",sans).attr("font-size",20).attr("letter-spacing",1.4).attr("fill","#555");
  ytitle.append("tspan").text("F");
  ytitle.append("tspan").attr("font-size",13.5).attr("dy",4).text("\u03bb");
  ytitle.append("tspan").attr("dy",-4).text("\u00a0(arbitrary units)");
  g.append("text").attr("x",16).attr("y",dateY[i][0]).attr("font-family",sans)
    .attr("font-size",14).attr("letter-spacing",0.9).text(panelDates[i].replace(" ","\u00a0\u00a0"));
  g.append("text").attr("x",16).attr("y",dateY[i][1]).attr("font-family",sans)
    .attr("font-size",14).attr("letter-spacing",0.9).text(panelPhases[i]);
  seriesNames.forEach((nm,k)=>{
    const h=g.append("text").attr("x",284).attr("y",legendY[i][k]).attr("fill",colors[k])
      .attr("font-family",sans).attr("font-size",21).text("H");
    const hw=h.node().getComputedTextLength();
    g.append("text").attr("x",284+hw+0.5).attr("y",legendY[i][k]+4.5).attr("fill",colors[k])
      .attr("font-family",sans).attr("font-size",16).attr("font-style","italic").text(nm);
  });
});
</script>
</body></html>
